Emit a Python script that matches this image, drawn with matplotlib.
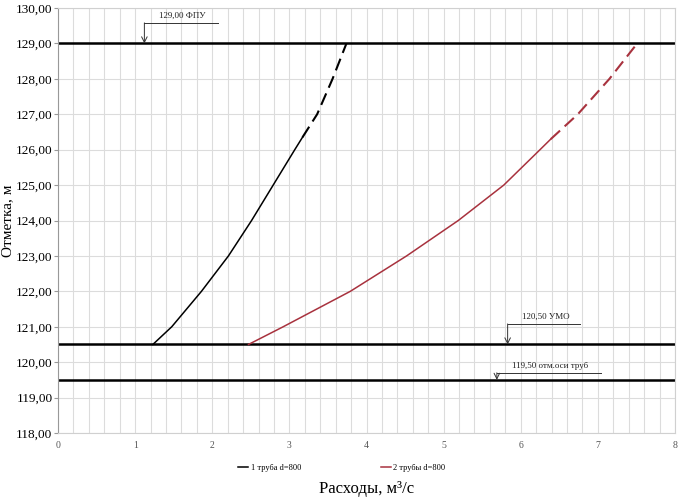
import matplotlib
matplotlib.use("Agg")
import matplotlib.pyplot as plt

plt.rcParams['font.family'] = ['Liberation Serif', 'DejaVu Serif']

# 1 труба d=800: сплошная часть и пунктирное продолжение
q1 = [1.23, 1.475, 1.86, 2.21, 2.51, 2.79, 3.07, 3.17]
h1 = [120.50, 121.00, 122.00, 123.00, 124.00, 125.00, 126.00, 126.35]
q1_dash = [3.17, 3.36, 3.56, 3.74]
h1_dash = [126.35, 127.00, 128.00, 129.00]

# 2 трубы d=800
q2 = [2.47, 2.92, 3.79, 4.52, 5.19, 5.78, 6.25, 6.39]
h2 = [120.50, 121.00, 122.00, 123.00, 124.00, 125.00, 126.00, 126.30]
q2_dash = [6.39, 6.74, 7.15, 7.51]
h2_dash = [126.30, 127.00, 128.00, 129.00]

# уровни
levels = [129.00, 120.50, 119.50]
level_labels = ['129,00 ФПУ', '120,50 УМО', '119,50 отм.оси труб']
arrow_x = [1.12, 5.83, 5.69]
leader_end = [2.07, 6.77, 7.04]
leader_y = [129.58, 121.08, 119.70]

x_ticks = [0, 1, 2, 3, 4, 5, 6, 7, 8]
y_ticks = [118, 119, 120, 121, 122, 123, 124, 125, 126, 127, 128, 129, 130]

red = '#a8323e'

fig = plt.figure(figsize=(6.82, 4.98), dpi=100)
ax = fig.add_axes([58 / 682, 1 - 433 / 498, 617 / 682, 425 / 498])

ax.set_xlim(0, 8)
ax.set_ylim(118, 130)

# сетка
for i in range(41):
    ax.axvline(i * 0.2, color='#dcdcdc', lw=0.8, zorder=0)
for y in y_ticks:
    ax.axhline(y, color='#dcdcdc', lw=0.8, zorder=0)

# горизонтальные уровни
for lv in levels:
    ax.axhline(lv, color='black', lw=1.8, zorder=2)

ax.plot(q1, h1, color='black', lw=1.1, label='1 труба d=800', zorder=3)
ax.plot(q1_dash, h1_dash, color='black', lw=1.5, ls=(0, (6, 3)), zorder=3)
ax.plot(q2, h2, color=red, lw=1.1, label='2 трубы d=800', zorder=3)
ax.plot(q2_dash, h2_dash, color=red, lw=1.5, ls=(0, (6, 3)), zorder=3)

# подписи уровней со стрелками
for lv, txt, ax_x, le, ly in zip(levels, level_labels, arrow_x, leader_end, leader_y):
    ax.plot([ax_x, le], [ly, ly], color='#333333', lw=0.7, zorder=4)
    ax.annotate('', xy=(ax_x, lv), xytext=(ax_x, ly),
                arrowprops=dict(arrowstyle='->', color='#333333', lw=0.7,
                                shrinkA=0, shrinkB=0), zorder=4)
    ax.text((ax_x + le) / 2 + 0.02, ly + 0.08, txt, fontsize=6.5,
            ha='center', va='bottom', color='#222222', zorder=4)

ax.set_xticks(x_ticks)
ax.set_xticklabels([str(x) for x in x_ticks], fontsize=7, color='#555555')
ax.set_yticks(y_ticks)
ax.set_yticklabels([f'{y:.2f}'.replace('.', ',') for y in y_ticks], fontsize=9.5)
ax.tick_params(axis='x', length=0, pad=6)
ax.tick_params(axis='y', length=3, color='#999999', pad=1)

for s in ax.spines.values():
    s.set_color('#d0d0d0')
    s.set_linewidth(0.8)
ax.spines['left'].set_color('#999999')

ax.set_ylabel('Отметка, м', fontsize=11, labelpad=1)
ax.set_xlabel('Расходы, м³/с', fontsize=12, labelpad=22)

ax.legend(loc='upper center', bbox_to_anchor=(0.46, -0.055), ncol=2,
          frameon=False, fontsize=6, handlelength=1.2, handletextpad=0.3,
          columnspacing=9.5)

plt.savefig('out.png', dpi=100)
